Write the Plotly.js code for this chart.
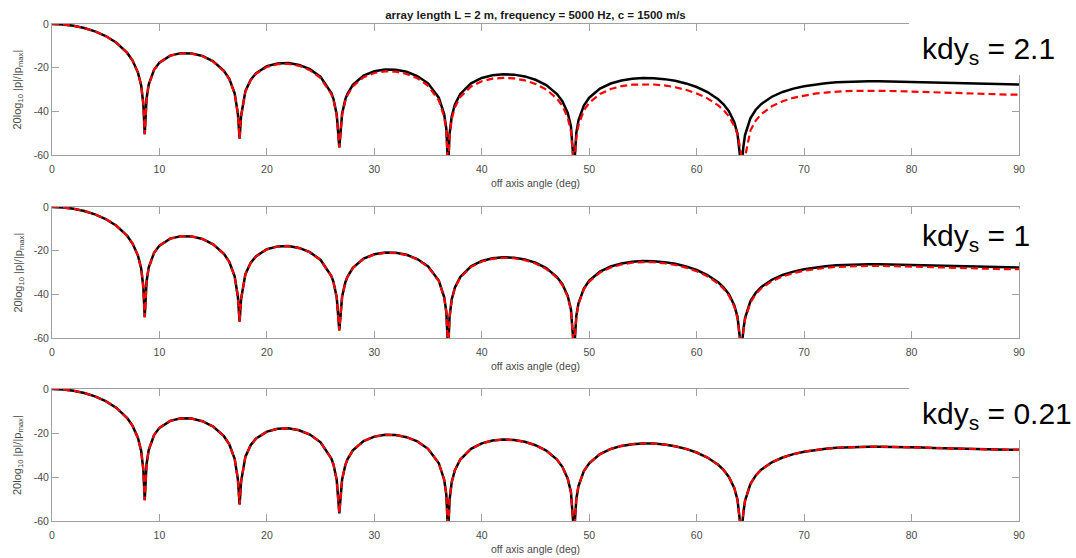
<!DOCTYPE html>
<html>
<head>
<meta charset="utf-8">
<script src="https://cdn.plot.ly/plotly-3.0.1.min.js"></script>
<style>html,body{margin:0;padding:0;background:#fff;}#chart{width:1076px;height:558px;}</style>
</head>
<body>
<div id="chart"></div>
<script>
// off axis angle (deg)
const angle = [0,0.5,1,2,3,4,5,6,7,7.5,8,8.3,8.5,8.63,8.8,9,9.5,10,11,12,13,14,15,16,16.5,17,17.3,17.46,17.6,18,18.5,19,20,21,22,23,24,25,26,26.2,26.5,26.74,27,27.3,27.5,28,29,30,31,32,33,34,35,36,36.5,36.7,36.87,37,37.2,37.5,38,39,40,41,42,43,44,45,46,47,47.5,48,48.3,48.59,48.8,49,49.5,50,51,52,53,54,55,56,57,58,59,60,61,62,62.5,63,63.5,63.8,64.16,64.34,64.5,65,65.5,66,67,68,69,70,71,72,73,74,75,76,77,78,79,80,81,82,83,84,85,86,87,88,89,90];

// continuous line (black, solid) - same in all three panels
const continuousDb = [0,-0.05,-0.19,-0.79,-1.82,-3.35,-5.51,-8.58,-13.24,-16.77,-22.26,-28.18,-36.59,-50.5,-34.2,-27.74,-20.95,-17.67,-14.48,-13.35,-13.46,-14.65,-17.07,-21.45,-25.15,-31.71,-41.09,-52.5,-42.11,-30.75,-25.46,-22.52,-19.36,-18.04,-17.89,-18.74,-20.69,-24.25,-31.61,-34.36,-41.4,-56.5,-41.13,-34.54,-31.97,-27.89,-23.66,-21.65,-20.85,-20.95,-21.9,-23.82,-27.18,-33.74,-41.23,-48.02,-66,-50.4,-42.38,-36.89,-32.05,-27.19,-24.73,-23.46,-23.0,-23.19,-24.01,-25.54,-28.01,-32.09,-35.37,-40.73,-46.94,-66,-49.86,-44.11,-37.34,-33.74,-29.61,-27.27,-25.87,-25.08,-24.75,-24.82,-25.25,-26.04,-27.22,-28.87,-31.16,-34.47,-36.8,-39.97,-44.96,-50.3,-66,-56.5,-50.85,-43.17,-39.28,-36.69,-33.31,-31.13,-29.61,-28.51,-27.71,-27.13,-26.72,-26.44,-26.28,-26.2,-26.2,-26.25,-26.34,-26.47,-26.62,-26.79,-26.96,-27.12,-27.27,-27.41,-27.52,-27.6,-27.65,-27.67];

// discrete array (red, dashed), kdy_s = 2.1
const discrete21Db = [0,-0.05,-0.19,-0.79,-1.82,-3.36,-5.52,-8.59,-13.26,-16.79,-22.29,-28.21,-36.62,-50.5,-34.24,-27.78,-20.99,-17.72,-14.54,-13.43,-13.56,-14.77,-17.21,-21.62,-25.33,-31.9,-41.29,-52.5,-42.32,-30.97,-25.7,-22.77,-19.65,-18.37,-18.26,-19.15,-21.14,-24.75,-32.16,-34.92,-41.97,-56.5,-41.72,-35.14,-32.58,-28.55,-24.38,-22.43,-21.69,-21.85,-22.87,-24.86,-28.29,-34.92,-42.43,-49.2,-66,-51.6,-43.6,-38.14,-33.38,-28.6,-26.22,-25.03,-24.65,-24.92,-25.83,-27.45,-30.01,-34.17,-37.49,-42.9,-49.1,-66,-52.1,-46.35,-39.6,-36.09,-32.05,-29.8,-28.49,-27.79,-27.6,-27.7,-28.14,-28.96,-30.15,-31.8,-34.06,-37.27,-39.4,-42.3,-46.7,-50.3,-60,-66,-61,-48.8,-44.2,-41.3,-37.7,-35.4,-33.8,-32.7,-31.9,-31.4,-31.0,-30.7,-30.6,-30.56,-30.6,-30.68,-30.8,-30.98,-31.16,-31.35,-31.54,-31.73,-31.9,-32.06,-32.18,-32.28,-32.34,-32.37];

// discrete array (red, dashed), kdy_s = 1
const discrete1Db = [0,-0.05,-0.19,-0.79,-1.82,-3.35,-5.51,-8.58,-13.24,-16.77,-22.26,-28.18,-36.59,-50.5,-34.2,-27.75,-20.96,-17.68,-14.49,-13.36,-13.48,-14.67,-17.1,-21.48,-25.18,-31.74,-41.12,-52.5,-42.14,-30.79,-25.5,-22.56,-19.41,-18.1,-17.95,-18.81,-20.77,-24.34,-31.7,-34.46,-41.5,-56.5,-41.23,-34.64,-32.07,-28.0,-23.78,-21.78,-20.99,-21.1,-22.06,-24.0,-27.37,-33.94,-41.44,-48.23,-66,-50.6,-42.6,-37.1,-32.28,-27.43,-24.98,-23.73,-23.28,-23.48,-24.32,-25.86,-28.35,-32.44,-35.73,-41.1,-47.3,-66,-50.2,-44.5,-37.72,-34.14,-30.02,-27.7,-26.32,-25.54,-25.23,-25.31,-25.76,-26.56,-27.76,-29.42,-31.72,-35.05,-37.4,-40.57,-45.57,-50.9,-66,-57.1,-51.5,-43.79,-39.91,-37.32,-33.96,-31.79,-30.28,-29.19,-28.4,-27.83,-27.43,-27.16,-27.01,-26.94,-26.95,-27.0,-27.1,-27.24,-27.4,-27.57,-27.75,-27.91,-28.06,-28.2,-28.32,-28.4,-28.45,-28.47];

// discrete array (red, dashed), kdy_s = 0.21 - overlies the continuous line
const discrete021Db = continuousDb.slice();

const panelLabels = ['kdy<sub>s</sub> = 2.1', 'kdy<sub>s</sub> = 1', 'kdy<sub>s</sub> = 0.21'];
const redSeries = [discrete21Db, discrete1Db, discrete021Db];
const xTicks = [0,10,20,30,40,50,60,70,80,90];
const yTicks = [0,-20,-40,-60];
const yTickText = ['0','-20','-40','-60'];
const titleText = 'array length L = 2 m, frequency = 5000 Hz, c = 1500 m/s';
const xTitle = 'off axis angle (deg)';
const yTitle = '20log<sub>10</sub> |p|/|p<sub>max</sub>|';

const W = 1076, H = 558;
const FONT = '"Liberation Sans", Arial, Helvetica, sans-serif';
const AXC = '#a0a0a0';
const TXC = '#4a4a4a';
// panel pixel boxes: [top, bottom]
const panelPx = [[24,155],[207,338],[389,521]];
const xPx = [52,1019];
const xDom = [xPx[0]/W, xPx[1]/W];

const traces = [];
const layout = {
  width: W, height: H,
  margin: {l:0, r:0, t:0, b:0},
  paper_bgcolor: '#fff', plot_bgcolor: '#fff',
  showlegend: false, hovermode: false,
  font: {family: FONT, size: 10.5, color: TXC},
  title: {text: titleText, x: ((xPx[0]+xPx[1])/2)/W, xanchor: 'center', y: 1-15/H, yanchor: 'middle',
          font: {family: FONT, size: 11.5, color: '#1a1a1a', weight: 'bold'}},
  annotations: [], shapes: []
};

panelPx.forEach((p, i) => {
  const n = i === 0 ? '' : String(i+1);
  traces.push({x: angle, y: continuousDb, xaxis: 'x'+n, yaxis: 'y'+n, type: 'scatter', mode: 'lines',
               line: {color: '#000000', width: 2.5}});
  traces.push({x: angle, y: redSeries[i], xaxis: 'x'+n, yaxis: 'y'+n, type: 'scatter', mode: 'lines',
               line: {color: '#ff0000', width: 2.2, dash: '7px,4px'}});
  layout['xaxis'+n] = {domain: xDom, anchor: 'y'+n, range: [0,90], tickvals: xTicks, ticks: 'inside', ticklen: 7,
    tickcolor: AXC, showline: true, linecolor: AXC, linewidth: 1, mirror: 'ticks', showgrid: false, zeroline: false,
    ticklabelstandoff: 4, tickfont: {family: FONT, size: 10.5, color: TXC}, fixedrange: true};
  layout['yaxis'+n] = {domain: [1-p[1]/H, 1-p[0]/H], anchor: 'x'+n, range: [-60,0], tickvals: yTicks, ticktext: yTickText,
    ticks: 'inside', ticklen: 7, tickcolor: AXC, showline: true, linecolor: AXC, linewidth: 1, mirror: 'ticks',
    showgrid: false, zeroline: false, tickfont: {family: FONT, size: 10.5, color: TXC}, fixedrange: true};
  layout.annotations.push({text: xTitle, xref: 'paper', yref: 'paper', x: ((xPx[0]+xPx[1])/2)/W, y: 1-(p[1]+28)/H,
    xanchor: 'center', yanchor: 'middle', showarrow: false, font: {family: FONT, size: 10.5, color: TXC}});
  layout.annotations.push({text: yTitle, xref: 'paper', yref: 'paper', x: 18/W, y: 1-((p[0]+p[1])/2)/H, textangle: -90,
    xanchor: 'center', yanchor: 'middle', showarrow: false, font: {family: FONT, size: 11, color: TXC}});
});

// white boxes behind the big labels (they hide part of the axes box)
layout.shapes.push({type:'rect', xref:'paper', yref:'paper', x0: 909/W, x1: 1, y0: 1-75/H, y1: 1, fillcolor:'#fff', line:{width:0}, layer:'above'});
layout.shapes.push({type:'rect', xref:'paper', yref:'paper', x0: 915/W, x1: 1, y0: 1-262/H, y1: 1-208.5/H, fillcolor:'#fff', line:{width:0}, layer:'above'});
layout.shapes.push({type:'rect', xref:'paper', yref:'paper', x0: 909/W, x1: 1, y0: 1-440/H, y1: 1-380/H, fillcolor:'#fff', line:{width:0}, layer:'above'});

const labelY = [50.5, 237.5, 415.5];
panelLabels.forEach((t, i) => {
  layout.annotations.push({text: t, xref: 'paper', yref: 'paper', x: 920/W, y: 1-labelY[i]/H, xanchor: 'left', yanchor: 'middle',
    showarrow: false, font: {family: FONT, size: 30, color: '#000'}});
});

Plotly.newPlot('chart', traces, layout, {staticPlot: true, displayModeBar: false});
</script>
</body>
</html>
